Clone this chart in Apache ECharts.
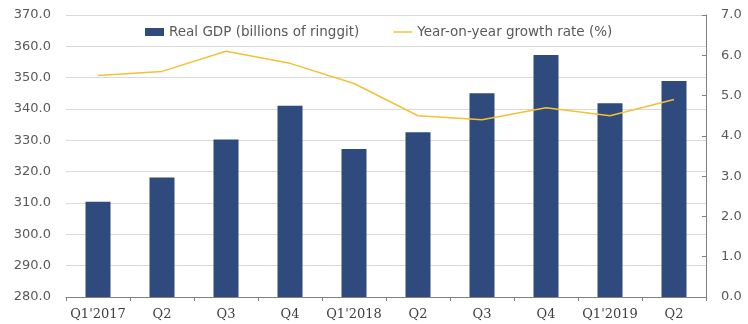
<!DOCTYPE html>
<html><head><meta charset="utf-8">
<script src="https://cdn.jsdelivr.net/npm/echarts@6/dist/echarts.min.js"></script>
<style>html,body{margin:0;padding:0;background:#fff}#c{width:748px;height:324px}</style>
</head><body><div id="c"></div>
<script>
const categories = ["Q1'2017","Q2","Q3","Q4","Q1'2018","Q2","Q3","Q4","Q1'2019","Q2"];
const gdp = [310.4, 318.1, 330.3, 341.0, 327.2, 332.6, 345.0, 357.2, 341.8, 348.9];
const growth = [5.5, 5.6, 6.1, 5.8, 5.3, 4.5, 4.4, 4.7, 4.5, 4.9];
const leftTicks = {min: 280, max: 370, interval: 10};
const rightTicks = {min: 0, max: 7, interval: 1};

const chart = echarts.init(document.getElementById('c'), null, {renderer: 'canvas'});
chart.setOption({
  animation: false,
  backgroundColor: '#fff',
  grid: {left: 66, right: 42, top: 15, bottom: 27},
  legend: {
    top: 23, left: 141, itemGap: 34, itemWidth: 19, itemHeight: 8,
    backgroundColor: '#fff', padding: [2, 4],
    textStyle: {color: '#595959', fontSize: 13.5, fontFamily: 'DejaVu Sans'},
    data: [
      {name: 'Real GDP (billions of ringgit)', icon: 'rect'},
      {name: 'Year-on-year growth rate (%)', icon: 'path://M0,4L20,4L20,5.5L0,5.5Z'}
    ]
  },
  xAxis: {
    type: 'category', data: categories,
    axisLine: {lineStyle: {color: '#808080', width: 1}},
    axisTick: {show: true, length: 4, inside: false, lineStyle: {color: '#808080'}},
    axisLabel: {interval: 0, color: '#404040', fontSize: 13, fontFamily: 'DejaVu Serif', margin: 11}
  },
  yAxis: [
    {
      type: 'value', min: leftTicks.min, max: leftTicks.max, interval: leftTicks.interval,
      axisLine: {show: false}, axisTick: {show: false},
      splitLine: {lineStyle: {color: '#d9d9d9', width: 1}},
      axisLabel: {color: '#595959', fontSize: 13, fontFamily: 'DejaVu Sans', margin: 15,
        formatter: v => v.toFixed(1)}
    },
    {
      type: 'value', min: rightTicks.min, max: rightTicks.max, interval: rightTicks.interval,
      position: 'right',
      axisLine: {show: true, lineStyle: {color: '#808080'}},
      axisTick: {show: true, length: 4, inside: true, lineStyle: {color: '#808080'}},
      splitLine: {show: false},
      axisLabel: {color: '#595959', fontSize: 13, fontFamily: 'DejaVu Sans', margin: 15,
        formatter: v => v.toFixed(1)}
    }
  ],
  series: [
    {
      name: 'Real GDP (billions of ringgit)', type: 'bar', data: gdp, yAxisIndex: 0,
      barWidth: 25, itemStyle: {color: '#2f4a7c'}
    },
    {
      name: 'Year-on-year growth rate (%)', type: 'line', data: growth, yAxisIndex: 1,
      symbol: 'none', lineStyle: {color: '#f2c232', width: 1.5}, itemStyle: {color: '#f2c232'}
    }
  ]
});
</script></body></html>
